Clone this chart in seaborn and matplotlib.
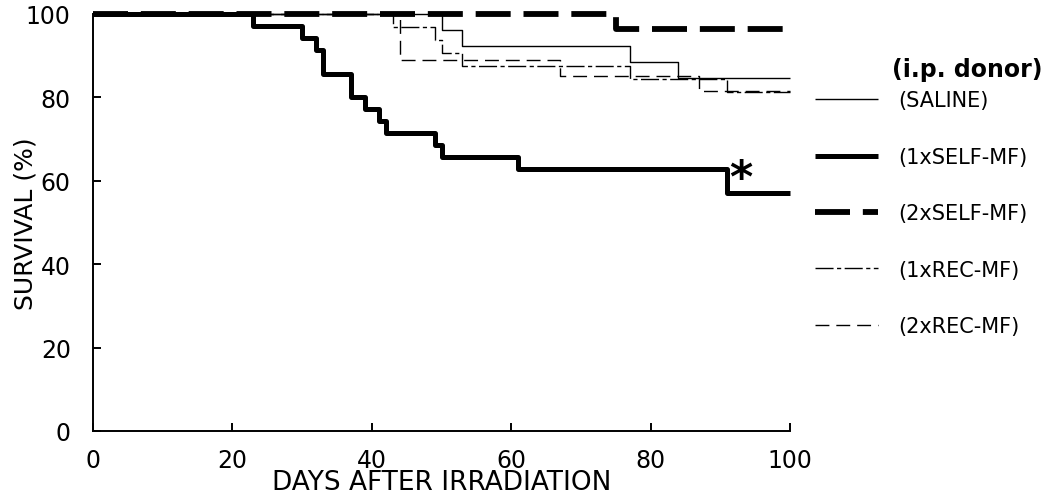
import numpy as np
import pandas as pd
import matplotlib.pyplot as plt
import seaborn as sns

# survival (%) step points, one pair of lists per group
saline_days = [0, 50, 53, 77, 84, 100]
saline_surv = [100, 96.2, 92.3, 88.5, 84.6, 84.6]
self1_days = [0, 23, 30, 32, 33, 37, 39, 41, 42, 49, 50, 61, 91, 100]
self1_surv = [100, 97.1, 94.3, 91.4, 85.7, 80.0, 77.1, 74.3, 71.4, 68.6, 65.7, 62.9, 57.1, 57.1]
self2_days = [0, 75, 100]
self2_surv = [100, 96.4, 96.4]
rec1_days = [0, 43, 49, 50, 53, 77, 91, 100]
rec1_surv = [100, 96.9, 93.8, 90.6, 87.5, 84.4, 81.3, 81.3]
rec2_days = [0, 44, 67, 87, 100]
rec2_surv = [100, 88.9, 85.2, 81.5, 81.5]

groups = ['(SALINE)', '(1xSELF-MF)', '(2xSELF-MF)', '(1xREC-MF)', '(2xREC-MF)']
x_ticks = [0, 20, 40, 60, 80, 100]
y_ticks = [0, 20, 40, 60, 80, 100]

all_days = [saline_days, self1_days, self2_days, rec1_days, rec2_days]
all_surv = [saline_surv, self1_surv, self2_surv, rec1_surv, rec2_surv]
df = pd.concat([pd.DataFrame({'day': d, 'surv': s, 'group': g})
                for g, d, s in zip(groups, all_days, all_surv)])

# line look per group: width, linestyle
line_kw = {
    '(SALINE)': dict(linewidth=1.0, linestyle='-'),
    '(1xSELF-MF)': dict(linewidth=3.6, linestyle='-'),
    '(2xSELF-MF)': dict(linewidth=4.2, linestyle=(0, (6, 2.2))),
    '(1xREC-MF)': dict(linewidth=1.0, linestyle=(0, (13, 2.5, 3, 2.5))),
    '(2xREC-MF)': dict(linewidth=1.0, linestyle=(0, (10, 5))),
}

sns.set_style('ticks')
plt.rcParams['font.family'] = ['DejaVu Sans']
for k in ['text.color', 'axes.labelcolor', 'xtick.color', 'ytick.color', 'axes.edgecolor']:
    plt.rcParams[k] = 'black'

fig = plt.figure(figsize=(10.52, 5.02), dpi=100)
ax = fig.add_axes([93 / 1052, 70 / 502, 697 / 1052, 417 / 502])

for g in groups:
    sub = df[df['group'] == g]
    sns.lineplot(data=sub, x='day', y='surv', ax=ax, color='black',
                 drawstyle='steps-post', label=g, legend=False,
                 solid_capstyle='butt', dash_capstyle='butt', clip_on=False,
                 **line_kw[g])

ax.set_xlim(0, 100)
ax.set_ylim(0, 100)
ax.set_xticks(x_ticks)
ax.set_yticks(y_ticks)
ax.tick_params(direction='in', length=6, width=1.4, labelsize=17)
ax.tick_params(axis='x', pad=12)
ax.tick_params(axis='y', pad=16)
sns.despine(ax=ax)
for sp in ['left', 'bottom']:
    ax.spines[sp].set_linewidth(1.4)

ax.set_xlabel('DAYS AFTER IRRADIATION', fontsize=19)
ax.xaxis.set_label_coords(0.5, -0.092)
ax.set_ylabel('SURVIVAL (%)', fontsize=18)
ax.yaxis.set_label_coords(-0.079, 0.5)

ax.text(93, 60.5, '*', fontsize=32, fontweight='bold', ha='center', va='center')

handles = ax.get_lines()[:len(groups)]
fig.legend(handles, groups, loc='upper left', bbox_to_anchor=(807 / 1052, 1 - 83 / 502),
           frameon=False, fontsize=15, handlelength=3.0, handletextpad=1.0,
           labelspacing=1.75, borderaxespad=0)
fig.text(1042 / 1052, 1 - 70 / 502, '(i.p. donor)', fontsize=17, fontweight='bold',
         ha='right', va='center')

fig.savefig('out.png', dpi=100)
